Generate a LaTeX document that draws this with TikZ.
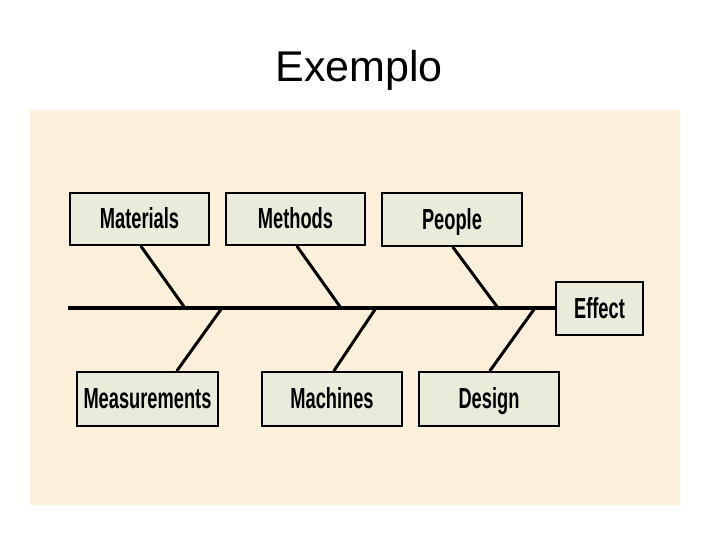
\documentclass[tikz,border=0pt]{standalone}
\usepackage{fontspec}
\setmainfont{Liberation Sans}
\usetikzlibrary{calc}
\definecolor{bgbeige}{HTML}{FCF0DA}
\definecolor{boxfill}{HTML}{EAEBDB}
\newcommand{\lbl}[1]{\fontsize{29}{29}\selectfont\bfseries\scalebox{0.63}[1]{\vphantom{M}\smash{#1}}}
\tikzset{
  cause/.style={draw=black, line width=2.6pt, fill=boxfill, minimum width=140pt, minimum height=53pt, inner sep=0pt},
  bone/.style={line width=3pt, line cap=round},
  spine/.style={line width=4pt},
}
\begin{document}
\begin{tikzpicture}[x=1pt,y=-1pt]
\useasboundingbox (0,0) rectangle (720,540);
\fill[white] (0,0) rectangle (720,540);
\fill[bgbeige] (30,110) rectangle (680,505);
\node (title) at (359,70) {\fontsize{43}{43}\selectfont Exemplo};
% cause boxes
\node[cause, minimum width=139pt, minimum height=52pt] (mat) at (139.5,219) {\lbl{Materials}};
\node[cause, minimum width=139pt, minimum height=52pt] (met) at (295.5,219) {\lbl{Methods}};
\node[cause] (peo) at (452,219.5) {\lbl{People}};
\node[cause, minimum width=141pt, minimum height=54pt] (mea) at (147.5,399) {\lbl{Measurements}};
\node[cause, minimum height=54pt] (mac) at (332,399) {\lbl{Machines}};
\node[cause, minimum height=54pt] (des) at (489,399) {\lbl{Design}};
\node[cause, minimum width=87pt] (eff) at (599.5,308.5) {\lbl{Effect}};
% spine
\coordinate (sL) at (68,308);
\draw[spine] (sL) -- (eff.west |- sL);
% branch junctions on spine
\coordinate (jmat) at (185,308);
\coordinate (jmet) at (341,308);
\coordinate (jpeo) at (498,308);
\coordinate (jmea) at (222,308);
\coordinate (jmac) at (376,308);
\coordinate (jdes) at (535,308);
\draw[bone] ($(mat.south)+(1.5,0)$) -- (jmat);
\draw[bone] ($(met.south)+(1.5,0)$) -- (jmet);
\draw[bone] ($(peo.south)+(1,0)$) -- (jpeo);
\draw[bone] ($(mea.north)+(29.5,0)$) -- (jmea);
\draw[bone] ($(mac.north)+(2,0)$) -- (jmac);
\draw[bone] ($(des.north)+(1,0)$) -- (jdes);
\end{tikzpicture}
\end{document}
